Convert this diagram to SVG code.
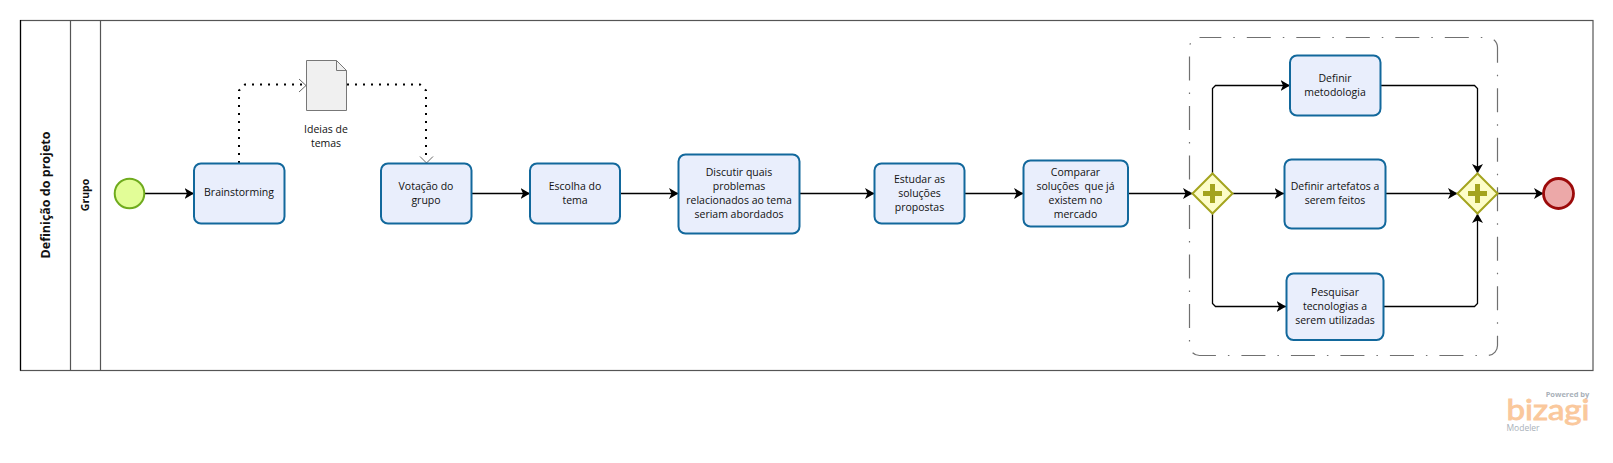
<svg xmlns="http://www.w3.org/2000/svg" width="1613" height="463" viewBox="0 0 1613 463">
<style>
text{font-family:"Open Sans","Noto Sans","DejaVu Sans",sans-serif;font-size:10.5px;fill:#111;text-anchor:middle}
.task{fill:#e9eefc;stroke:#12689c;stroke-width:2}
.gw{fill:#fdfdc8;stroke:#a4a41e;stroke-width:2}
.plus{fill:#a4a41e}
.flow{fill:none;stroke:#000;stroke-width:1.3;marker-end:url(#arr)}
.assoc{fill:none;stroke:#000;stroke-width:2;stroke-dasharray:2 6}
.head{fill:none;stroke:#555;stroke-width:.9}
.pool{fill:#fff;stroke:#555;stroke-width:1.2}
</style>
<defs>
<marker id="arr" markerUnits="userSpaceOnUse" markerWidth="10" markerHeight="12" refX="9.5" refY="6" orient="auto"><path d="M0,.5 L9.5,6 L0,11.5 L2.5,6 Z" fill="#000"/></marker>
</defs>
<g id="pool">
<rect class="pool" x="20.500" y="20.500" width="1572.500" height="350"/>
<path d="M70.500,20.500V370.500M100.500,20.500V370.500" stroke="#555" stroke-width="1.2" fill="none"/>
<path d="M20.500,20V370.500" stroke="#000" stroke-width="1.2"/>
<text transform="translate(50,195) rotate(-90)" style="font-size:12.5px;font-weight:700">Definição do projeto</text>
<text transform="translate(89,195) rotate(-90)" style="font-size:10.500px;font-weight:700">Grupo</text>
</g>
<g id="group-box"><rect x="1189.500" y="37.500" width="308" height="318" rx="10" fill="none" stroke="#707070" stroke-width="1.2" stroke-dasharray="24 12 1.500 12" stroke-dashoffset="2.200"/></g>
<g id="connectors">
<path class="flow" d="M145,193.500H194"/>
<path class="flow" d="M472,193.500H530"/>
<path class="flow" d="M620,193.500H678.500"/>
<path class="flow" d="M800,193.500H874.500"/>
<path class="flow" d="M965,193.500H1023.500"/>
<path class="flow" d="M1128,193.500H1192.500"/>
<path class="flow" d="M1232.500,193.500H1284"/>
<path class="flow" d="M1385.500,193.500H1457.500"/>
<path class="flow" d="M1497.500,193.500H1543.500"/>
<path class="flow" d="M1212.500,173.500V88.500L1215.500,85.500H1290"/>
<path class="flow" d="M1212.500,213.500V303.500L1215.500,306.500H1286" />
<path class="flow" d="M1380.500,85.500H1474.500L1477.500,88.500V173.500"/>
<path class="flow" d="M1384,306.500H1474.500L1477.500,303.500V213.500"/>
<path class="assoc" d="M239,163V90.500L245,84.500H304"/>
<path class="assoc" d="M347,84.500H420L426,90.500V161"/>
<path class="head" d="M299,79L306,85.500L299,92M420,156.500L426.500,163L433,156.500"/>
</g>
<g id="start"><circle cx="129.500" cy="193.500" r="14.800" fill="#e2fd97" stroke="#6fab1d" stroke-width="2"/></g>
<g id="brainstorming"><rect class="task" x="194" y="163.500" width="90.500" height="60" rx="7"/><text x="239" y="196">Brainstorming</text></g>
<g id="doc"><path d="M306.500,60.500H336.500L346.500,70.500V110.500H306.500Z" fill="#f0f0f0" stroke="#777" stroke-width="1"/><path d="M336.500,60.500V70.500H346.500" fill="none" stroke="#777" stroke-width="1"/>
<text x="326" y="133">Ideias de</text><text x="326" y="147">temas</text></g>
<g id="votacao"><rect class="task" x="381" y="163.500" width="90.500" height="60" rx="7"/><text x="426" y="190">Votação do</text><text x="426" y="204">grupo</text></g>
<g id="escolha"><rect class="task" x="530" y="163.500" width="90" height="60" rx="7"/><text x="575" y="190">Escolha do</text><text x="575" y="204">tema</text></g>
<g id="discutir"><rect class="task" x="678.500" y="154.500" width="121" height="79" rx="7"/><text x="739" y="176">Discutir quais</text><text x="739" y="190">problemas</text><text x="739" y="204">relacionados ao tema</text><text x="739" y="218">seriam abordados</text></g>
<g id="estudar"><rect class="task" x="874.500" y="163.500" width="90" height="60" rx="7"/><text x="919.500" y="183">Estudar as</text><text x="919.500" y="197">soluções</text><text x="919.500" y="211">propostas</text></g>
<g id="comparar"><rect class="task" x="1023.500" y="160.500" width="104.500" height="66" rx="7"/><text x="1075.500" y="175.500">Comparar</text><text x="1075.500" y="190" xml:space="preserve">soluções  que já</text><text x="1075.500" y="204">existem no</text><text x="1075.500" y="218">mercado</text></g>
<g id="gw1"><path class="gw" d="M1212.500,173.500L1232.500,193.500L1212.500,213.500L1192.500,193.500Z"/><path class="plus" d="M1210,184H1215V191H1222V196H1215V203H1210V196H1203V191H1210Z"/></g>
<g id="metodologia"><rect class="task" x="1290" y="55.500" width="90.500" height="60" rx="7"/><text x="1335" y="82">Definir</text><text x="1335" y="96">metodologia</text></g>
<g id="artefatos"><rect class="task" x="1284.500" y="159.500" width="101" height="69" rx="7"/><text x="1335" y="190">Definir artefatos a</text><text x="1335" y="204">serem feitos</text></g>
<g id="pesquisar"><rect class="task" x="1286.500" y="273.500" width="97" height="66.500" rx="7"/><text x="1335" y="296">Pesquisar</text><text x="1335" y="310">tecnologias a</text><text x="1335" y="324">serem utilizadas</text></g>
<g id="gw2"><path class="gw" d="M1477.500,173.500L1497.500,193.500L1477.500,213.500L1457.500,193.500Z"/><path class="plus" d="M1475,184H1480V191H1487V196H1480V203H1475V196H1468V191H1475Z"/></g>
<g id="end"><circle cx="1558.500" cy="193.500" r="15" fill="#eca8a8" stroke="#9c0a0a" stroke-width="2.800"/></g>
<g id="logo">
<text x="1567.500" y="396.500" style="font-size:7.500px;font-weight:700;fill:#a9b1b9">Powered by</text>
<text x="1548" y="419.500" textLength="83" lengthAdjust="spacingAndGlyphs" style="font-size:28px;fill:#fac89c;stroke:#fac89c;stroke-width:.9;font-family:Lato,sans-serif">bizagi</text>
<text x="1523" y="431" style="font-size:8.500px;fill:#a9b1b9">Modeler</text>
</g>
</svg>
